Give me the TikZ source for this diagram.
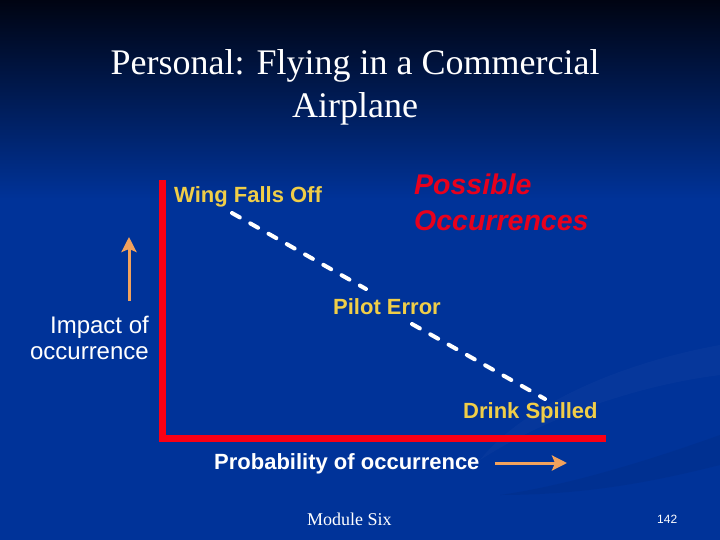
\documentclass[tikz,border=0pt]{standalone}
\usepackage{fontspec}
\setmainfont{Liberation Serif}
\setsansfont{Liberation Sans}
\usetikzlibrary{arrows.meta}

\definecolor{slideblue}{RGB}{0,51,153}
\definecolor{slidemid}{RGB}{0,28,96}
\definecolor{slidetop}{RGB}{0,4,18}
\definecolor{occyellow}{RGB}{240,206,72}
\definecolor{occred}{RGB}{232,0,28}
\definecolor{axisred}{RGB}{250,0,20}
\definecolor{hintorange}{RGB}{242,162,92}

\begin{document}
\begin{tikzpicture}[
    x=1pt, y=-1pt,
    title/.style={font=\fontsize{36}{43}\selectfont, text=white,
                  inner sep=0pt, anchor=base},
    occ/.style={font=\fontsize{22}{26}\selectfont\sffamily\bfseries,
                text=occyellow, inner sep=0pt, anchor=base west},
    axislbl/.style={font=\fontsize{24}{26}\selectfont\sffamily,
                    text=white, inner sep=0pt, anchor=base east},
    problbl/.style={font=\fontsize{22}{26}\selectfont\sffamily\bfseries,
                    text=white, inner sep=0pt, anchor=base west},
    heading/.style={font=\fontsize{28.5}{35}\selectfont\sffamily\bfseries\itshape,
                    text=occred, inner sep=0pt, anchor=base west},
    footer/.style={text=white, inner sep=0pt, anchor=base west},
    trend/.style={draw=white, line width=4pt, line cap=round,
                  dash pattern=on 9pt off 12pt},
    hint/.style={draw=hintorange, line width=3pt,
                 -{Stealth[length=15pt, width=15pt, inset=3pt]}}
  ]

  % slide background
  \useasboundingbox (0,0) rectangle (720,540);
  \fill[slideblue] (0,195) rectangle (720,540);
  \shade[top color=slidetop, middle color=slidemid, bottom color=slideblue]
    (0,0) rectangle (720,200);
  \fill[white, opacity=0.025]
    (720,345) .. controls (610,365) and (520,410) .. (480,460)
    .. controls (550,415) and (640,385) .. (720,375) -- cycle;
  \fill[black, opacity=0.05]
    (720,435) .. controls (650,460) and (570,485) .. (500,495)
    .. controls (590,495) and (660,480) .. (720,465) -- cycle;

  % title
  \node[title] (title1) at (355,75)  {Personal: Flying in a Commercial};
  \node[title] (title2) at (355,118) {Airplane};

  % axes
  \coordinate (axtop)  at (162,180);
  \coordinate (origin) at (162,438);
  \coordinate (axend)  at (606,438);
  \draw[axisred, line width=7pt] (axtop) -- (origin) -- (axend);

  % occurrences
  \node[occ] (wing)  at (174,203) {Wing Falls Off};
  \node[occ] (pilot) at (333,314) {Pilot Error};
  \node[occ] (drink) at (463,418) {Drink Spilled};

  \node[heading] (possible) at (414,195) {Possible};
  \node[heading] (occurs)   at (414,230) {Occurrences};

  \coordinate (wingtail)  at (232,213);
  \coordinate (pilothead) at (366,289);
  \coordinate (pilottail) at (412,324);
  \coordinate (drinkhead) at (545,399);
  \draw[trend] (wingtail) -- (pilothead);
  \draw[trend] (pilottail) -- (drinkhead);

  % axis labels
  \node[axislbl] (impact)  at (149,333) {Impact of};
  \node[axislbl] (impact2) at (149,359) {occurrence};
  \node[problbl] (prob) at (214,469) {Probability of occurrence};

  \coordinate (uptail)    at (129,301);
  \coordinate (uptip)     at (129,237);
  \coordinate (righttail) at (495,463);
  \coordinate (righttip)  at (567,463);
  \draw[hint] (uptail) -- (uptip);
  \draw[hint] (righttail) -- (righttip);

  % footer
  \node[footer, font=\fontsize{18}{20}\selectfont] (module) at (307,525) {Module Six};
  \node[footer, font=\fontsize{12}{14}\selectfont\sffamily] (page) at (657,523) {142};

\end{tikzpicture}
\end{document}
